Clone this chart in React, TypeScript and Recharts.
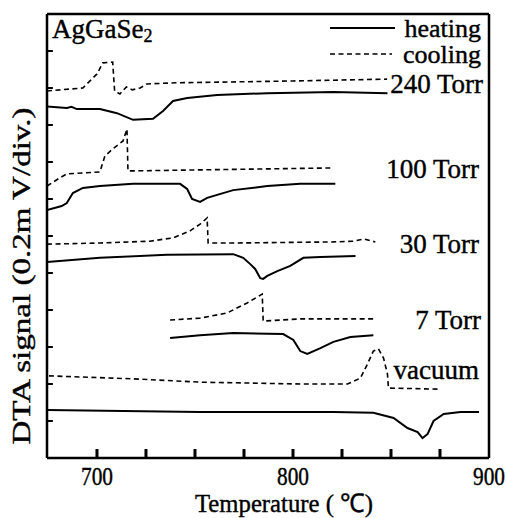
import { LineChart, Line, XAxis, YAxis, ReferenceLine } from "recharts";

// temperatures (°C) and DTA signal (in divisions)
const heat240 = [
  { t: 674.5, v: 9.5 }, { t: 684.6, v: 9.46 }, { t: 687, v: 9.49 }, { t: 689.7, v: 9.43 },
  { t: 701.5, v: 9.43 }, { t: 710.2, v: 9.32 }, { t: 718.4, v: 9.14 }, { t: 728.6, v: 9.17 },
  { t: 733.7, v: 9.38 }, { t: 738.8, v: 9.65 }, { t: 746, v: 9.73 }, { t: 761.3, v: 9.81 },
  { t: 786.9, v: 9.86 }, { t: 820.6, v: 9.89 }, { t: 848.2, v: 9.86 }
];
const cool240 = [
  { t: 674.5, v: 9.92 }, { t: 692.8, v: 10.0 }, { t: 700, v: 10.38 }, { t: 703, v: 10.68 },
  { t: 708, v: 10.7 }, { t: 709, v: 9.92 }, { t: 711.7, v: 9.84 }, { t: 715, v: 10.03 },
  { t: 718, v: 9.95 }, { t: 722, v: 10.0 }, { t: 725.5, v: 10.11 }, { t: 740, v: 10.14 },
  { t: 800, v: 10.19 }, { t: 848, v: 10.24 }
];
const heat100 = [
  { t: 674.5, v: 6.7 }, { t: 682, v: 6.81 }, { t: 684.6, v: 6.89 }, { t: 687.7, v: 7.16 },
  { t: 692.8, v: 7.3 }, { t: 701.5, v: 7.35 }, { t: 718.4, v: 7.41 }, { t: 742.4, v: 7.41 },
  { t: 746, v: 7.27 }, { t: 748.5, v: 7.0 }, { t: 752.6, v: 6.92 }, { t: 756.2, v: 7.03 },
  { t: 769.5, v: 7.24 }, { t: 786.9, v: 7.35 }, { t: 803.7, v: 7.41 }, { t: 821.6, v: 7.41 }
];
const cool100 = [
  { t: 674.5, v: 7.35 }, { t: 681, v: 7.57 }, { t: 684.6, v: 7.68 }, { t: 701.5, v: 7.73 },
  { t: 704, v: 8.16 }, { t: 708, v: 8.35 }, { t: 713.3, v: 8.57 }, { t: 715.3, v: 8.89 },
  { t: 715.8, v: 7.76 }, { t: 718.4, v: 7.76 }, { t: 820.6, v: 7.84 }
];
const heat30 = [
  { t: 674.5, v: 5.3 }, { t: 701.5, v: 5.41 }, { t: 735.7, v: 5.49 }, { t: 769.5, v: 5.51 },
  { t: 774.6, v: 5.41 }, { t: 778.2, v: 5.24 }, { t: 780.7, v: 5.11 }, { t: 783.3, v: 4.86 },
  { t: 784.8, v: 4.84 }, { t: 786.9, v: 4.92 }, { t: 792, v: 5.05 }, { t: 798.6, v: 5.19 },
  { t: 805.3, v: 5.41 }, { t: 814, v: 5.43 }, { t: 831.9, v: 5.46 }
];
const cool30 = [
  { t: 674.5, v: 5.78 }, { t: 701.5, v: 5.81 }, { t: 727, v: 5.86 }, { t: 738.8, v: 5.95 },
  { t: 747.5, v: 6.14 }, { t: 752.6, v: 6.32 }, { t: 756.2, v: 6.49 }, { t: 756.7, v: 5.81 },
  { t: 769.5, v: 5.81 }, { t: 820.6, v: 5.84 }, { t: 830.8, v: 5.86 }, { t: 836, v: 5.92 },
  { t: 842, v: 5.84 }
];
const heat7 = [
  { t: 737.3, v: 3.24 }, { t: 752.6, v: 3.32 }, { t: 769.5, v: 3.38 }, { t: 795, v: 3.35 },
  { t: 800.2, v: 3.19 }, { t: 803.7, v: 2.89 }, { t: 807.3, v: 2.81 }, { t: 814, v: 2.97 },
  { t: 820.6, v: 3.14 }, { t: 829.3, v: 3.27 }, { t: 841, v: 3.32 }
];
const cool7 = [
  { t: 737.3, v: 3.73 }, { t: 752.6, v: 3.78 }, { t: 766.4, v: 3.92 }, { t: 776.6, v: 4.19 },
  { t: 784.3, v: 4.43 }, { t: 784.8, v: 3.7 }, { t: 803.7, v: 3.76 }, { t: 841, v: 3.76 }
];
const heatVac = [
  { t: 674.5, v: 1.3 }, { t: 752.6, v: 1.24 }, { t: 820.6, v: 1.24 }, { t: 841, v: 1.22 },
  { t: 851.3, v: 1.08 }, { t: 858.4, v: 0.81 }, { t: 863.6, v: 0.7 }, { t: 866.1, v: 0.54 },
  { t: 868.7, v: 0.65 }, { t: 871.7, v: 1.0 }, { t: 876.9, v: 1.19 }, { t: 885.5, v: 1.24 },
  { t: 894.9, v: 1.24 }
];
const coolVac = [
  { t: 675.5, v: 2.22 }, { t: 718.4, v: 2.14 }, { t: 752.6, v: 2.05 }, { t: 803.7, v: 2.0 },
  { t: 827.8, v: 2.0 }, { t: 834.4, v: 2.16 }, { t: 838, v: 2.54 }, { t: 841, v: 2.89 },
  { t: 843.6, v: 2.95 }, { t: 846.2, v: 2.7 }, { t: 848.2, v: 2.27 }, { t: 848.7, v: 1.89 },
  { t: 875.3, v: 1.86 }
];

const xTicks = [700, 725, 750, 775, 800, 825, 850, 875, 900];
const yTicks = [1, 2, 3, 4, 5, 6, 7, 8, 9, 10, 11];
const heatingSeries = [heat240, heat100, heat30, heat7, heatVac];
const coolingSeries = [cool240, cool100, cool30, cool7, coolVac];

const xMin = 674.5;
const xMax = 900;
const font = '"Liberation Serif", "Times New Roman", serif';
const frame = { stroke: "#000", strokeWidth: 2.5 };

// inward tick mark for every tick, label only at the hundreds
const XTick = ({ x, y, payload }: any) => (
  <g>
    {payload.value < xMax && (
      <path d={`M${x},${y}V${y - 9}`} stroke="#000" strokeWidth={2.6} fill="none" />
    )}
    {payload.value % 100 === 0 && (
      <text
        x={x}
        y={y + 27}
        textAnchor="middle"
        fontFamily={font}
        fontSize={26}
        textLength={32}
        lengthAdjust="spacingAndGlyphs"
        fill="#000"
        stroke="#000"
        strokeWidth={0.4}
      >
        {payload.value}
      </text>
    )}
  </g>
);

export default function App() {
  return (
    <div style={{ position: "absolute", left: 0, top: 0, width: 506, height: 518, background: "#fff" }}>
      <LineChart width={506} height={518} margin={{ top: 0, right: 0, left: 0, bottom: 0 }}>
        <XAxis
          xAxisId="top"
          orientation="top"
          type="number"
          domain={[xMin, xMax]}
          height={14}
          tick={false}
          tickLine={false}
          axisLine={frame}
        />
        <YAxis
          yAxisId="right"
          orientation="right"
          type="number"
          domain={[0, 12]}
          width={17}
          tick={false}
          tickLine={false}
          axisLine={frame}
        />
        <YAxis
          type="number"
          domain={[0, 12]}
          allowDataOverflow
          ticks={yTicks}
          width={47}
          tick={false}
          tickLine={false}
          axisLine={frame}
        />
        {heatingSeries.map((d, i) => (
          <Line
            key={"h" + i}
            data={d}
            dataKey="v"
            type="linear"
            stroke="#000"
            strokeWidth={2}
            dot={false}
            isAnimationActive={false}
          />
        ))}
        {coolingSeries.map((d, i) => (
          <Line
            key={"c" + i}
            data={d}
            dataKey="v"
            type="linear"
            stroke="#000"
            strokeWidth={1.6}
            strokeDasharray="5 3.5"
            dot={false}
            isAnimationActive={false}
          />
        ))}
        {yTicks.map((v) => (
          <ReferenceLine
            key={"yt" + v}
            segment={[{ x: xMin, y: v }, { x: xMin + 3, y: v }]}
            stroke="#000"
            strokeWidth={2}
            ifOverflow="visible"
          />
        ))}
        {xTicks.slice(0, -1).map((t) => (
          <ReferenceLine
            key={"xt" + t}
            segment={[{ x: t, y: 0 }, { x: t, y: 0.24 }]}
            stroke="#000"
            strokeWidth={2.6}
            ifOverflow="visible"
          />
        ))}
        <XAxis
          dataKey="t"
          type="number"
          domain={[xMin, xMax]}
          allowDataOverflow
          ticks={xTicks}
          interval={0}
          height={60}
          tickSize={0}
          tickMargin={0}
          tickLine={false}
          tick={<XTick />}
          axisLine={frame}
        />
      </LineChart>
      <svg
        width={506}
        height={518}
        style={{ position: "absolute", left: 0, top: 0, pointerEvents: "none" }}
        fontFamily={font}
        fill="#000"
        stroke="#000"
        strokeWidth={0.4}
      >
        <text x={52} y={38} fontSize={27}>
          AgGaSe<tspan fontSize={18} dy={4}>2</tspan>
        </text>
        <line x1={330} y1={28} x2={395} y2={28} strokeWidth={2} />
        <line x1={330} y1={54} x2={392} y2={54} strokeWidth={1.6} strokeDasharray="5 3.5" />
        <text x={481} y={37} fontSize={26} textAnchor="end">heating</text>
        <text x={481} y={63} fontSize={26} textAnchor="end">cooling</text>
        <text x={483} y={93} fontSize={27} textAnchor="end">240 Torr</text>
        <text x={479} y={178} fontSize={27} textAnchor="end">100 Torr</text>
        <text x={479} y={253} fontSize={27} textAnchor="end">30 Torr</text>
        <text x={481} y={329} fontSize={27} textAnchor="end">7 Torr</text>
        <text x={479} y={379} fontSize={27} textAnchor="end">vacuum</text>
        <text
          x={284}
          y={512}
          fontSize={26}
          textAnchor="middle"
          textLength={178}
          lengthAdjust="spacingAndGlyphs"
        >
          Temperature ( ℃)
        </text>
        <text
          x={30}
          y={276}
          fontSize={26}
          textAnchor="middle"
          textLength={337}
          lengthAdjust="spacingAndGlyphs"
          transform="rotate(-90 30 276)"
        >
          DTA signal (0.2m V/div.)
        </text>
      </svg>
    </div>
  );
}
